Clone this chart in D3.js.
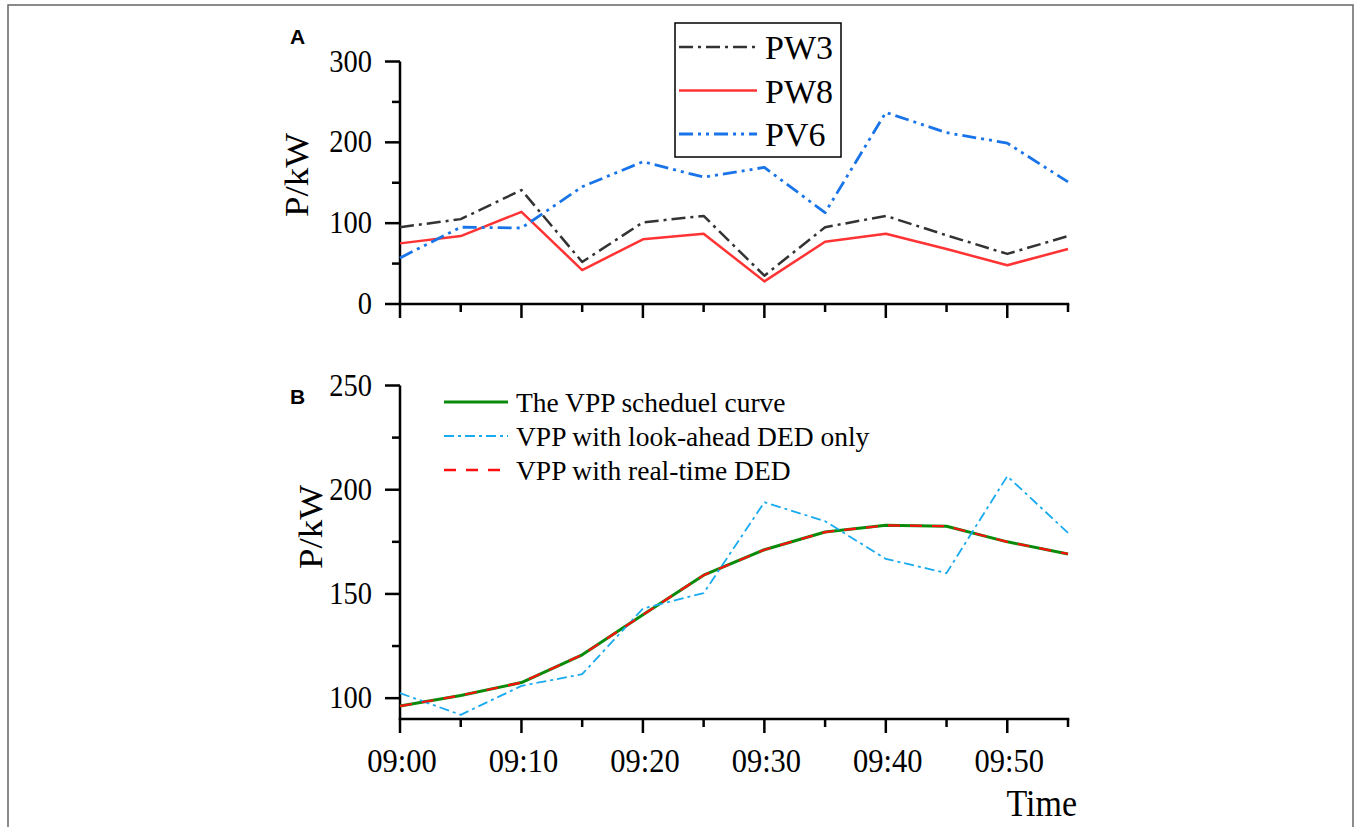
<!DOCTYPE html>
<html>
<head>
<meta charset="utf-8">
<script src="https://cdn.jsdelivr.net/npm/d3@7"></script>
<style>
  body { margin: 0; background: #fff; }
  svg text { font-family: "Liberation Serif", "Times New Roman", serif; fill: #000; }
</style>
</head>
<body>
<svg id="chart" width="1356" height="827"></svg>
<script>
// minutes after 09:00
var minutes = [0, 5, 10, 15, 20, 25, 30, 35, 40, 45, 50, 55];
var tickLabels = ["09:00", "09:10", "09:20", "09:30", "09:40", "09:50"];

// panel A
var pw3 = [95, 105, 141, 52, 101, 109, 35, 95, 109, 85, 62, 84];
var pw8 = [75, 84, 114, 42, 80, 87, 28, 77, 87, 68, 48, 68];
var pv6 = [57, 95, 94, 145, 176, 157, 169, 113, 237, 212, 199, 151];

// panel B
var schedule = [96.2, 101.3, 107.5, 120.8, 140, 159, 171.2, 179.7, 182.9, 182.5, 175, 169.2];
var lookAhead = [102.4, 92, 105.9, 111.5, 143, 150.4, 194, 184.9, 166.8, 160, 206.5, 179.3];
var realTime = [96.2, 101.3, 107.5, 120.8, 140, 159, 171.2, 179.7, 182.9, 182.5, 175, 169.2];

var svg = d3.select("#chart");
var x = d3.scaleLinear().domain([0, 55]).range([400, 1068]);

var yA = d3.scaleLinear().domain([0, 300]).range([304, 61.5]);
var yB = d3.scaleLinear().domain([90, 250]).range([719, 385.5]);

// outer frame
svg.append("rect").attr("x", 8).attr("y", 5).attr("width", 1345).attr("height", 840)
  .attr("fill", "none").attr("stroke", "#666").attr("stroke-width", 1.5);

// text stretched a little vertically, like the original figure
function label(px, py, str, size, anchor, sy) {
  return svg.append("text")
    .attr("transform", "translate(" + px + "," + py + ") scale(1," + (sy || 1) + ")")
    .attr("text-anchor", anchor || "start")
    .style("font-size", size + "px")
    .text(str);
}

function drawAxes(y, bottom, majors, minors, showXLabels) {
  var g = svg.append("g");
  g.append("line").attr("x1", 400).attr("x2", 400)
    .attr("y1", y.range()[1]).attr("y2", bottom)
    .attr("stroke", "#000").attr("stroke-width", 2.5);
  majors.forEach(function(v) {
    g.append("line").attr("x1", 385).attr("x2", 400)
      .attr("y1", y(v)).attr("y2", y(v))
      .attr("stroke", "#000").attr("stroke-width", 2.5);
    label(372, y(v) + 10, v, 28.5, "end", 1.08);
  });
  minors.forEach(function(v) {
    g.append("line").attr("x1", 392).attr("x2", 400)
      .attr("y1", y(v)).attr("y2", y(v))
      .attr("stroke", "#000").attr("stroke-width", 2.5);
  });
  g.append("line").attr("x1", 398.75).attr("x2", 1069.25)
    .attr("y1", bottom).attr("y2", bottom)
    .attr("stroke", "#000").attr("stroke-width", 2.5);
  minutes.forEach(function(m) {
    var major = m % 10 === 0;
    g.append("line").attr("x1", x(m)).attr("x2", x(m))
      .attr("y1", bottom).attr("y2", bottom + (major ? 14 : 8))
      .attr("stroke", "#000").attr("stroke-width", 2.5);
  });
  if (showXLabels) {
    tickLabels.forEach(function(t, i) {
      label(x(i * 10) + 2, bottom + 53, t, 30.5, "middle", 1.08);
    });
  }
}

function series(y, values, color, width, dash) {
  var line = d3.line()
    .x(function(d, i) { return x(minutes[i]); })
    .y(function(d) { return y(d); });
  svg.append("path").datum(values)
    .attr("d", line)
    .attr("fill", "none")
    .attr("stroke", color)
    .attr("stroke-width", width)
    .attr("stroke-linejoin", "round")
    .attr("stroke-dasharray", dash || null);
}

drawAxes(yA, 304, [0, 100, 200, 300], [50, 150, 250], false);
drawAxes(yB, 719, [100, 150, 200, 250], [125, 175, 225], true);

// panel A lines
series(yA, pw3, "#333333", 2.5, "14,5,3,5");
series(yA, pw8, "#ff3333", 2.5);
series(yA, pv6, "#1874e8", 2.8, "14,5,3,5,3,5");

// panel B lines
series(yB, schedule, "#0a8a0a", 3);
series(yB, lookAhead, "#19aaf0", 1.8, "10,4,3,4");
series(yB, realTime, "#ff1010", 2.2, "12,10");

// panel letters
svg.append("text").attr("x", 290).attr("y", 44)
  .style("font-family", "Liberation Sans, Arial, sans-serif")
  .style("font-weight", "bold").style("font-size", "21px").text("A");
svg.append("text").attr("x", 290).attr("y", 404)
  .style("font-family", "Liberation Sans, Arial, sans-serif")
  .style("font-weight", "bold").style("font-size", "21px").text("B");

// y titles
svg.append("text").attr("transform", "translate(308,175) rotate(-90) scale(1.12,1)")
  .attr("text-anchor", "middle").style("font-size", "33px").text("P/kW");
svg.append("text").attr("transform", "translate(322,527) rotate(-90) scale(1.12,1)")
  .attr("text-anchor", "middle").style("font-size", "33px").text("P/kW");

label(1077, 816, "Time", 34, "end", 1.1);

// legend A
var legA = [
  { name: "PW3", color: "#333333", width: 2.5, dash: "14,5,3,5" },
  { name: "PW8", color: "#ff3333", width: 2.5, dash: null },
  { name: "PV6", color: "#1874e8", width: 2.8, dash: "14,5,3,5,3,5" }
];
svg.append("rect").attr("x", 675).attr("y", 23).attr("width", 166).attr("height", 134)
  .attr("fill", "#fff").attr("stroke", "#000").attr("stroke-width", 1.5);
legA.forEach(function(d, i) {
  var yy = 47 + i * 43.5;
  svg.append("line").attr("x1", 679).attr("x2", 757).attr("y1", yy).attr("y2", yy)
    .attr("stroke", d.color).attr("stroke-width", d.width)
    .attr("stroke-dasharray", d.dash);
  label(765, yy + 12, d.name, 34, "start", 1);
});

// legend B
var legB = [
  { name: "The VPP scheduel curve", color: "#0a8a0a", width: 3, dash: null },
  { name: "VPP with look-ahead DED only", color: "#19aaf0", width: 1.8, dash: "10,4,3,4" },
  { name: "VPP with real-time DED", color: "#ff1010", width: 2.5, dash: "12,10" }
];
legB.forEach(function(d, i) {
  var yy = 402 + i * 34;
  svg.append("line").attr("x1", 444).attr("x2", 508).attr("y1", yy).attr("y2", yy)
    .attr("stroke", d.color).attr("stroke-width", d.width)
    .attr("stroke-dasharray", d.dash);
  label(516, yy + 10, d.name, 27.5, "start", 1.03);
});
</script>
</body>
</html>
